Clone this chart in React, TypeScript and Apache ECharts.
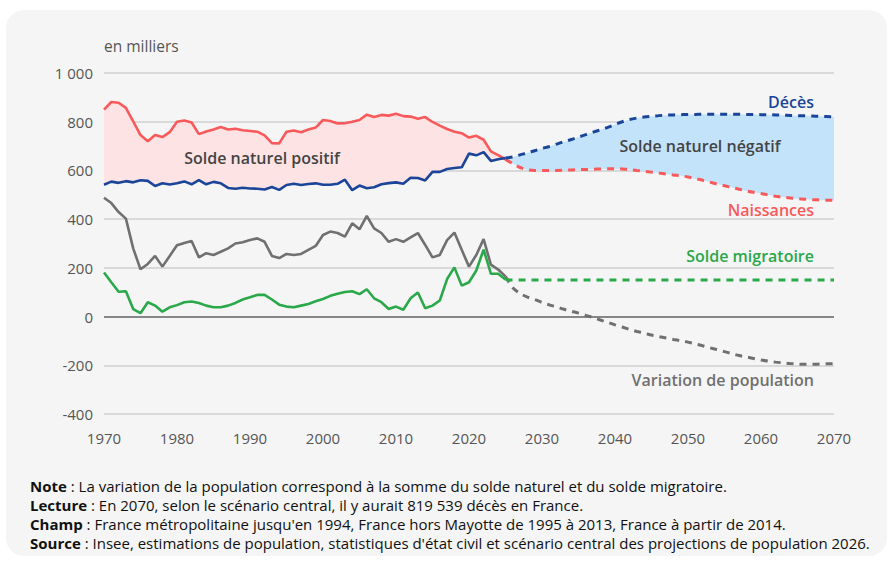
import React, { useEffect, useRef } from "react";
import * as echarts from "echarts";

// ---- Data (en milliers) ----
const histStart = 1970;
const projStart = 2025;

const birthsHist = [
  850, 881, 878, 857, 801, 745, 720, 745, 737, 757,
  800, 805, 797, 749, 760, 768, 778, 768, 771, 765,
  762, 759, 744, 712, 711, 759, 764, 757, 768, 776,
  807, 803, 793, 794, 800, 807, 829, 819, 828, 825,
  833, 823, 821, 812, 819, 799, 784, 770, 759, 753,
  735, 742, 726, 678, 663, 645,
];
const deathsHist = [
  541, 554, 549, 556, 551, 560, 557, 536, 547, 542,
  547, 555, 543, 560, 543, 553, 547, 528, 525, 529,
  526, 525, 522, 532, 520, 540, 545, 540, 544, 547,
  541, 541, 545, 562, 519, 538, 527, 531, 543, 548,
  551, 545, 570, 569, 559, 594, 594, 606, 610, 613,
  669, 662, 675, 639, 646, 651,
];
const migrationHist = [
  181, 141, 102, 104, 31, 14, 59, 45, 20, 38,
  47, 59, 62, 56, 45, 38, 38, 45, 56, 70,
  79, 89, 89, 70, 49, 41, 38, 45, 52, 63,
  72, 85, 94, 101, 104, 92, 112, 75, 59, 31,
  41, 28, 75, 99, 34, 45, 66, 154, 202, 127,
  141, 189, 275, 176, 176, 152,
];
const variationHist = [
  488, 466, 429, 402, 280, 194, 216, 249, 205, 249,
  293, 302, 310, 243, 260, 253, 266, 280, 300, 305,
  314, 321, 307, 249, 240, 257, 253, 257, 274, 290,
  335, 349, 343, 328, 383, 358, 413, 362, 343, 307,
  318, 307, 325, 343, 294, 243, 253, 314, 345, 274,
  205, 253, 318, 213, 193, 165,
];

// Projections 2025-2070 (scénario central)
const birthsProj = [
  645, 628, 612, 603, 600, 600, 600, 600, 601, 602,
  603, 604, 605, 606, 607, 607, 606, 604, 600, 596,
  593, 589, 585, 581, 578, 573, 566, 560, 552, 544,
  537, 530, 523, 516, 510, 505, 499, 494, 490, 487,
  484, 482, 480, 479, 478, 477,
];
const deathsProj = [
  651, 655, 664, 672, 681, 690, 698, 708, 718, 727,
  737, 747, 757, 767, 777, 789, 800, 809, 815, 819,
  822, 825, 827, 828, 829, 830, 830, 831, 831, 831,
  831, 831, 831, 830, 830, 829, 829, 828, 827, 826,
  825, 824, 823, 822, 821, 820,
];
const migrationProj = [
  152, 150, 150, 150, 150, 150, 150, 150, 150, 150,
  150, 150, 150, 150, 150, 150, 150, 150, 150, 150,
  150, 150, 150, 150, 150, 150, 150, 150, 150, 150,
  150, 150, 150, 150, 150, 150, 150, 150, 150, 150,
  150, 150, 150, 150, 150, 150,
];
const variationProj = [
  165, 118, 95, 80, 70, 58, 48, 40, 30, 22,
  14, 5, -4, -14, -24, -34, -43, -53, -61, -68,
  -76, -82, -88, -94, -99, -105, -112, -120, -128, -136,
  -144, -152, -160, -166, -172, -178, -183, -187, -190, -193,
  -195, -196, -196, -195, -194, -193,
];

const xTicks = [1970, 1980, 1990, 2000, 2010, 2020, 2030, 2040, 2050, 2060, 2070];

const notes = [
  ["Note", " : La variation de la population correspond à la somme du solde naturel et du solde migratoire."],
  ["Lecture", " : En 2070, selon le scénario central, il y aurait 819 539 décès en France."],
  ["Champ", " : France métropolitaine jusqu'en 1994, France hors Mayotte de 1995 à 2013, France à partir de 2014."],
  ["Source", " : Insee, estimations de population, statistiques d'état civil et scénario central des projections de population 2026."],
];

const RED = "#f85a5c";
const BLUE = "#1b4598";
const GREEN = "#2aa84a";
const GREY = "#707070";
const FONT = "'Open Sans', 'Noto Sans', sans-serif";

const pairs = (start: number, vals: number[]) => vals.map((v, i) => [start + i, v]);

function bandSeries(start: number, upper: number[], lower: number[], color: string) {
  return {
    type: "custom",
    silent: true,
    z: 1,
    data: [[start, upper[0]]],
    renderItem: (_p: any, api: any) => {
      const pts: number[][] = [];
      for (let i = 0; i < upper.length; i++) pts.push(api.coord([start + i, upper[i]]));
      for (let i = lower.length - 1; i >= 0; i--) pts.push(api.coord([start + i, lower[i]]));
      return { type: "polygon", shape: { points: pts }, style: { fill: color } };
    },
  };
}

function lineSeries(name: string, start: number, vals: number[], color: string, dashed: boolean, z: number) {
  return {
    name,
    type: "line",
    data: pairs(start, vals),
    showSymbol: false,
    symbol: "none",
    smooth: dashed ? 0.3 : false,
    z,
    lineStyle: {
      color,
      width: dashed ? 3 : 2.6,
      type: dashed ? [7, 6] : "solid",
    },
  };
}

function label(text: string, x: number, y: number, color: string, align: string) {
  return {
    type: "text",
    x,
    y,
    z: 100,
    style: { text, fill: color, font: `600 16px ${FONT}`, textAlign: align, textVerticalAlign: "middle" },
  };
}

export default function App() {
  const ref = useRef<HTMLDivElement>(null);
  useEffect(() => {
    if (!ref.current) return;
    const chart = echarts.init(ref.current, null, { renderer: "svg" });
    const graphics: any[] = [
      {
        type: "rect",
        z: -10,
        shape: { x: 6, y: 10, width: 881, height: 546, r: 18 },
        style: { fill: "#f5f5f5" },
      },
      {
        type: "text",
        x: 104,
        y: 46,
        z: 100,
        style: { text: "en milliers", fill: "#555", font: `15.5px ${FONT}`, textVerticalAlign: "middle" },
      },
      label("Solde naturel positif", 262, 158, "#444", "center"),
      label("Solde naturel négatif", 700, 146, "#444", "center"),
      label("Décès", 814, 102, BLUE, "right"),
      label("Naissances", 814, 210, RED, "right"),
      label("Solde migratoire", 814, 256, GREEN, "right"),
      label("Variation de population", 814, 380, GREY, "right"),
    ];
    notes.forEach((n, i) => {
      graphics.push({
        type: "text",
        x: 30,
        y: 486 + i * 19,
        z: 100,
        style: {
          text: `{b|${n[0]}}{r|${n[1]}}`,
          textVerticalAlign: "middle",
          rich: {
            b: { font: `700 15px ${FONT}`, fill: "#111" },
            r: { font: `15px ${FONT}`, fill: "#111" },
          },
        },
      });
    });

    chart.setOption({
      animation: false,
      backgroundColor: "#ffffff",
      grid: { left: 104, right: 56, top: 73, bottom: 148, containLabel: false },
      xAxis: {
        type: "value",
        min: 1970,
        max: 2070,
        interval: 10,
        axisLine: { show: false },
        axisTick: { show: false },
        splitLine: { show: false },
        axisLabel: {
          color: "#555",
          fontFamily: FONT,
          fontSize: 15,
          margin: 16,
          formatter: (v: number) => (xTicks.includes(v) ? String(v) : ""),
        },
      },
      yAxis: {
        type: "value",
        min: -400,
        max: 1000,
        interval: 200,
        axisLine: { show: false },
        axisTick: { show: false },
        splitLine: { lineStyle: { color: "#cfcfcf", width: 1.5 } },
        axisLabel: {
          color: "#555",
          fontFamily: FONT,
          fontSize: 15,
          margin: 11,
          formatter: (v: number) => (v === 1000 ? "1 000" : String(v)),
        },
      },
      graphic: graphics,
      series: [
        bandSeries(histStart, birthsHist, deathsHist, "#fde3e3"),
        bandSeries(projStart, deathsProj, birthsProj, "#c3e3fb"),
        {
          type: "line",
          data: [],
          markLine: {
            silent: true,
            symbol: "none",
            label: { show: false },
            lineStyle: { color: "#6b6b6b", width: 1.5, type: "solid" },
            data: [{ yAxis: 0 }],
          },
          z: 2,
        },
        lineSeries("Variation", histStart, variationHist, GREY, false, 3),
        lineSeries("Variation proj", projStart, variationProj, GREY, true, 3),
        lineSeries("Migration", histStart, migrationHist, GREEN, false, 4),
        lineSeries("Migration proj", projStart, migrationProj, GREEN, true, 4),
        lineSeries("Naissances", histStart, birthsHist, RED, false, 5),
        lineSeries("Naissances proj", projStart, birthsProj, RED, true, 5),
        lineSeries("Décès", histStart, deathsHist, BLUE, false, 6),
        lineSeries("Décès proj", projStart, deathsProj, BLUE, true, 6),
      ],
    });
    return () => chart.dispose();
  }, []);
  return (
    <div
      ref={ref}
      style={{ position: "fixed", left: 0, top: 0, width: 890, height: 562 }}
    />
  );
}
